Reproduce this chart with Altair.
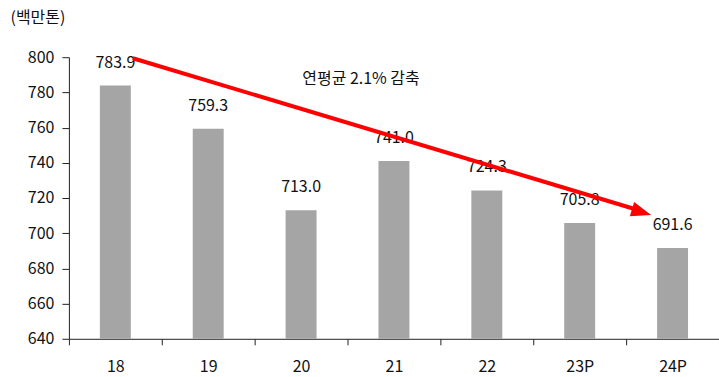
import altair as alt
import pandas as pd

# Annual emissions (million tonnes), P = provisional
years = ["18", "19", "20", "21", "22", "23P", "24P"]
values = [783.9, 759.3, 713.0, 741.0, 724.3, 705.8, 691.6]
y_ticks = [640, 660, 680, 700, 720, 740, 760, 780, 800]

# Trend arrow endpoints (category, value)
arrow_x = ["18", "24P"]
arrow_y = [799.4, 710.4]
note_text = "연평균 2.1% 감축"

FONT = "Noto Sans CJK KR"
Y_MIN, Y_MAX = 640, 800

bars_df = pd.DataFrame({"year": years, "value": values})
bars_df["label"] = [f"{v:.1f}" for v in values]
bars_df["base"] = Y_MIN

x_scale = alt.Scale(domain=years, paddingInner=0, paddingOuter=0)
x_axis = alt.Axis(
    title=None, labelAngle=0, labelFontSize=16, labelColor="#111",
    labelPadding=14, tickBand="extent", tickSize=6, tickColor="#222",
    domainColor="#222", labelFont=FONT,
)
y_scale = alt.Scale(domain=[Y_MIN, Y_MAX], nice=False, zero=False)
y_axis = alt.Axis(
    values=y_ticks, tickCount=len(y_ticks), grid=False, tickSize=7,
    labelOverlap=False,
    tickColor="#222", domainColor="#222", labelFontSize=16,
    labelColor="#111", labelPadding=8, labelFont=FONT,
    title="(백만톤)", titleAngle=0, titleAlign="left",
    titleBaseline="middle", titleX=-59, titleY=-40,
    titleFontSize=16, titleFontWeight="normal", titleColor="#111",
    titleFont=FONT,
)


def xe(field):
    return alt.X(field, type="nominal", sort=years, scale=x_scale, axis=x_axis)


def ye(field):
    return alt.Y(field, type="quantitative", scale=y_scale, axis=y_axis)


bars = alt.Chart(bars_df).mark_bar(size=31, color="#A5A5A5").encode(
    x=xe("year"), y=ye("value"), y2="base:Q",
)

labels = alt.Chart(bars_df).mark_text(
    baseline="middle", dy=-23, fontSize=16, color="#111", font=FONT,
).encode(x=xe("year"), y=ye("value"), text="label:N")

arrow_df = pd.DataFrame({
    "x": [arrow_x[0]], "y": [arrow_y[0]],
    "x2": [arrow_x[1]], "y2": [arrow_y[1] + 2.5],
})
arrow_line = alt.Chart(arrow_df).mark_rule(
    color="#FF0000", strokeWidth=4, xOffset=17.5, x2Offset=-33,
).encode(x=xe("x"), y=ye("y"), x2="x2:N", y2="y2:Q")

head_df = pd.DataFrame({"x": [arrow_x[1]], "y": [arrow_y[1]]})
arrow_head = alt.Chart(head_df).mark_point(
    shape="M0,0 L-2,-0.75 L-2,0.75 Z", size=400, filled=True,
    color="#FF0000", opacity=1, angle=16.8, xOffset=-21.5, strokeWidth=0,
).encode(x=xe("x"), y=ye("y"))

note_df = pd.DataFrame({"x": ["21"], "y": [787.5], "t": [note_text]})
note = alt.Chart(note_df).mark_text(
    fontSize=16, color="#111", font=FONT, dx=-33, baseline="middle",
).encode(x=xe("x"), y=ye("y"), text="t:N")

chart = (
    alt.layer(bars, labels, arrow_line, arrow_head, note)
    .properties(
        width=651, height=282,
        padding={"left": 69, "top": 57, "right": 0, "bottom": 38},
        autosize=alt.AutoSizeParams(type="none"),
        background="white",
    )
    .configure_view(stroke=None)
)

chart.save("out.html", embed_options={"renderer": "svg", "actions": False})
